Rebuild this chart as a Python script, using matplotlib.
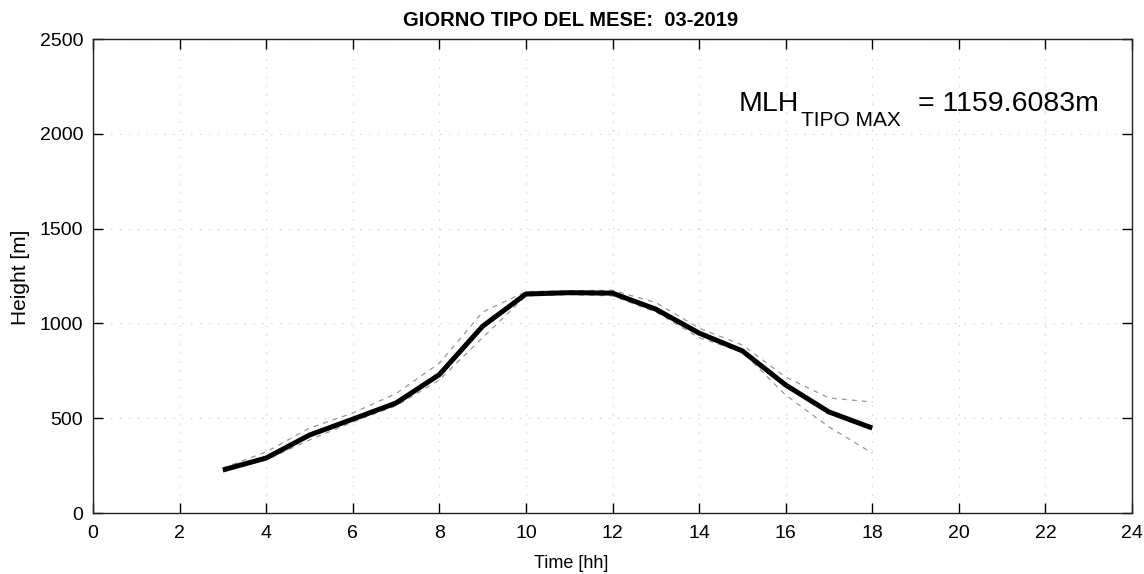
import matplotlib
matplotlib.use("Agg")
import matplotlib.pyplot as plt

plt.rcParams['font.family'] = ['Liberation Sans', 'DejaVu Sans']

# Data
hours = [3, 4, 5, 6, 7, 8, 9, 10, 11, 12, 13, 14, 15, 16, 17, 18]
mlh_mean = [227, 290, 411, 495, 580, 730, 985, 1155, 1162, 1159.6, 1075, 949, 855, 675, 533, 448]
mlh_upper = [237, 322, 448, 527, 630, 790, 1060, 1168, 1172, 1175, 1110, 975, 886, 717, 607, 585]
mlh_lower = [217, 280, 385, 480, 565, 701, 925, 1145, 1152, 1145, 1060, 925, 849, 622, 454, 316]
xticks = list(range(0, 25, 2))
yticks = [0, 500, 1000, 1500, 2000, 2500]
title = 'GIORNO TIPO DEL MESE:  03-2019'
annot_main = 'MLH'
annot_sub = 'TIPO MAX'
annot_value = '= 1159.6083m'

W, H = 1144, 574
fig = plt.figure(figsize=(W / 100, H / 100), dpi=100)
fig.patch.set_facecolor('white')
x0, x1, y0, y1 = 93, 1132, 39, 513
ax = fig.add_axes([x0 / W, (H - y1) / H, (x1 - x0) / W, (y1 - y0) / H])

ax.plot(hours, mlh_upper, linestyle=(0, (4, 4)), color='#999999', linewidth=0.9)
ax.plot(hours, mlh_lower, linestyle=(0, (4, 4)), color='#999999', linewidth=0.9)
ax.plot(hours, mlh_mean, color='black', linewidth=3.6, solid_capstyle='butt')

ax.set_xlim(0, 24)
ax.set_ylim(0, 2500)
ax.set_xticks(xticks)
ax.set_yticks(yticks)
ax.tick_params(direction='in', length=7, width=1.0, top=True, right=True,
               labelsize=14, colors='black')
ax.tick_params(axis='x', pad=9)
ax.tick_params(axis='y', pad=7)
for s in ax.spines.values():
    s.set_linewidth(1.0)
    s.set_color('#222222')
ax.grid(True, linestyle=(0, (1, 7)), color='#c4c4c4', linewidth=0.8)
ax.set_axisbelow(True)


def ftext(px, py, s, **kw):
    return fig.text(px / W, 1 - py / H, s, **kw)


ftext(571, 21, title, ha='center', va='center', fontsize=14.5, fontweight='bold')
ftext(571, 563, 'Time [hh]', ha='center', va='center', fontsize=13)
ftext(21, 277, 'Height [m]', ha='center', va='center', rotation=90, fontsize=15)

ftext(739, 111, annot_main, ha='left', va='baseline', fontsize=20.5)
ftext(801, 126, annot_sub, ha='left', va='baseline', fontsize=15)
ftext(918, 111, annot_value, ha='left', va='baseline', fontsize=20.5)

fig.savefig('out.png', dpi=100, facecolor='white')
